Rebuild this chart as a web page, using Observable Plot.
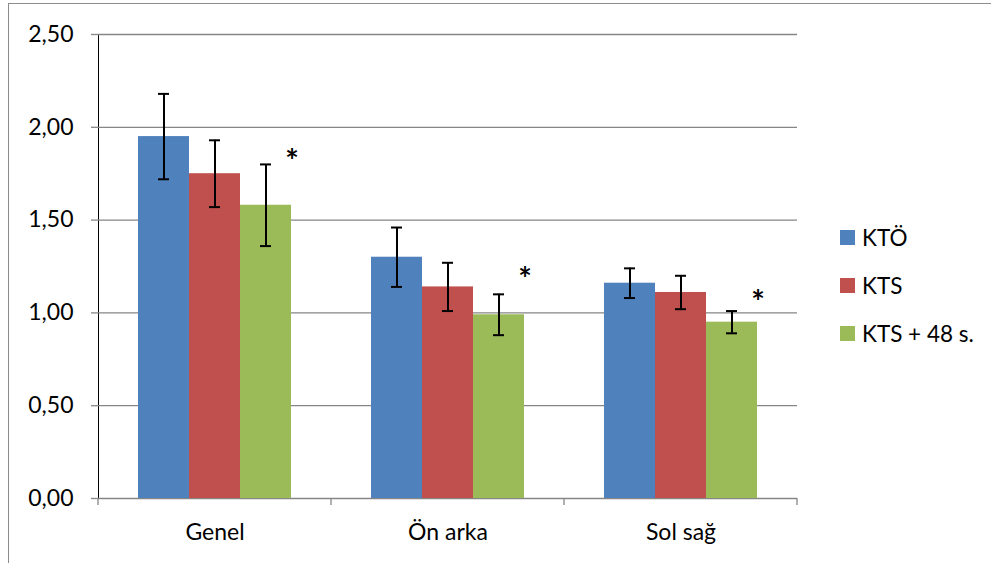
<!DOCTYPE html>
<html><head><meta charset="utf-8">
<script src="https://cdn.jsdelivr.net/npm/d3@7"></script>
<script src="https://cdn.jsdelivr.net/npm/@observablehq/plot@0.6"></script>
<style>
body{margin:0;background:#fff;}
#wrap{position:relative;width:991px;height:563px;overflow:hidden;font-family:Lato,"Open Sans",sans-serif;background:#fff;}
#chart{position:absolute;left:0;top:0;}
#border{position:absolute;left:8px;top:3px;width:1100px;height:700px;border-left:1.5px solid #8c8c8c;border-top:1.5px solid #8c8c8c;pointer-events:none;}
#chart g[aria-label*="axis"] line, #chart g[aria-label*="axis"] path{stroke:#868686;stroke-width:1.3px;}
.leg{position:absolute;left:840px;height:24px;display:flex;align-items:center;font-size:22.5px;color:#000;white-space:nowrap;}
.leg span.sw{display:inline-block;width:15px;height:15px;margin-right:7px;}
</style>
</head><body>
<div id="wrap"><div id="chart"></div><div id="legend"></div><div id="border"></div></div>
<script>
const categories = ["Genel", "Ön arka", "Sol sağ"];
const series = ["KTÖ", "KTS", "KTS + 48 s."];
const colors = ["#4F81BD", "#C0504D", "#9BBB59"];
const meanKTO = [1.95, 1.30, 1.16];
const meanKTS = [1.75, 1.14, 1.11];
const meanKTS48 = [1.58, 0.99, 0.95];
const sdKTO = [0.23, 0.16, 0.08];
const sdKTS = [0.18, 0.13, 0.09];
const sdKTS48 = [0.22, 0.11, 0.06];
const starLevels = [1.86, 1.22, 1.10]; // "*" marks over KTS + 48 s.
const yTicks = [0, 0.5, 1, 1.5, 2, 2.5];

const means = [meanKTO, meanKTS, meanKTS48];
const sds = [sdKTO, sdKTS, sdKTS48];
const table = [];
series.forEach((s, si) => categories.forEach((c, ci) => table.push({
  category: c, series: s, value: means[si][ci], sd: sds[si][ci],
  star: si === 2 ? starLevels[ci] : null
})));

const chart = Plot.plot({
  width: 991, height: 563,
  marginLeft: 97, marginRight: 194, marginTop: 34, marginBottom: 65,
  style: {background: "transparent", fontFamily: "Lato, 'Open Sans', sans-serif", fontSize: "23px", color: "#000", overflow: "visible"},
  facet: {data: table, x: "category"},
  fx: {domain: categories, padding: 0, label: null, tickSize: 0, tickPadding: 25},
  x: {domain: series, paddingInner: 0, paddingOuter: 0.757, axis: null},
  y: {domain: [0, 2.5], ticks: yTicks, tickFormat: d => d.toFixed(2).replace(".", ","), tickSize: 7, tickPadding: 18, label: null, line: true},
  color: {domain: series, range: colors},
  marks: [
    Plot.ruleY(yTicks.slice(1), {stroke: "#868686", strokeWidth: 1.3}),
    Plot.ruleY([0], {stroke: "#868686", strokeWidth: 1.3}),
    Plot.barY(table, {x: "series", y: "value", fill: "series", inset: 0}),
    Plot.ruleX(table, {x: "series", y1: d => d.value - d.sd, y2: d => d.value + d.sd, stroke: "#000", strokeWidth: 2}),
    Plot.tickY(table, {x: "series", y: d => d.value + d.sd, stroke: "#000", strokeWidth: 2, insetLeft: 20, insetRight: 20}),
    Plot.tickY(table, {x: "series", y: d => d.value - d.sd, stroke: "#000", strokeWidth: 2, insetLeft: 20, insetRight: 20}),
    Plot.text(table, {filter: d => d.star != null, x: "series", y: "star", text: () => "*", dx: 26, dy: 9, fontSize: 32, fontWeight: "bold", fill: "#000"})
  ]
});
document.getElementById("chart").appendChild(chart);

// category boundary ticks below the baseline (through the plot's own scales)
try {
  const fx = chart.scale("fx");
  const y = chart.scale("y");
  const y0 = y.apply(0);
  const bounds = categories.map(c => fx.apply(c));
  bounds.push(fx.apply(categories[categories.length - 1]) + fx.bandwidth);
  const g = d3.select(chart).append("g");
  bounds.forEach(b => g.append("line").attr("x1", b).attr("x2", b).attr("y1", y0).attr("y2", y0 + 7)
    .attr("stroke", "#868686").attr("stroke-width", 1.3));
} catch (e) { console.error(e); }

const legend = document.getElementById("legend");
const legendTops = [225, 273, 321];
series.forEach((s, i) => {
  const row = document.createElement("div");
  row.className = "leg";
  row.style.top = legendTops[i] + "px";
  row.innerHTML = `<span class="sw" style="background:${colors[i]}"></span><span>${s}</span>`;
  legend.appendChild(row);
});
</script>
</body></html>
